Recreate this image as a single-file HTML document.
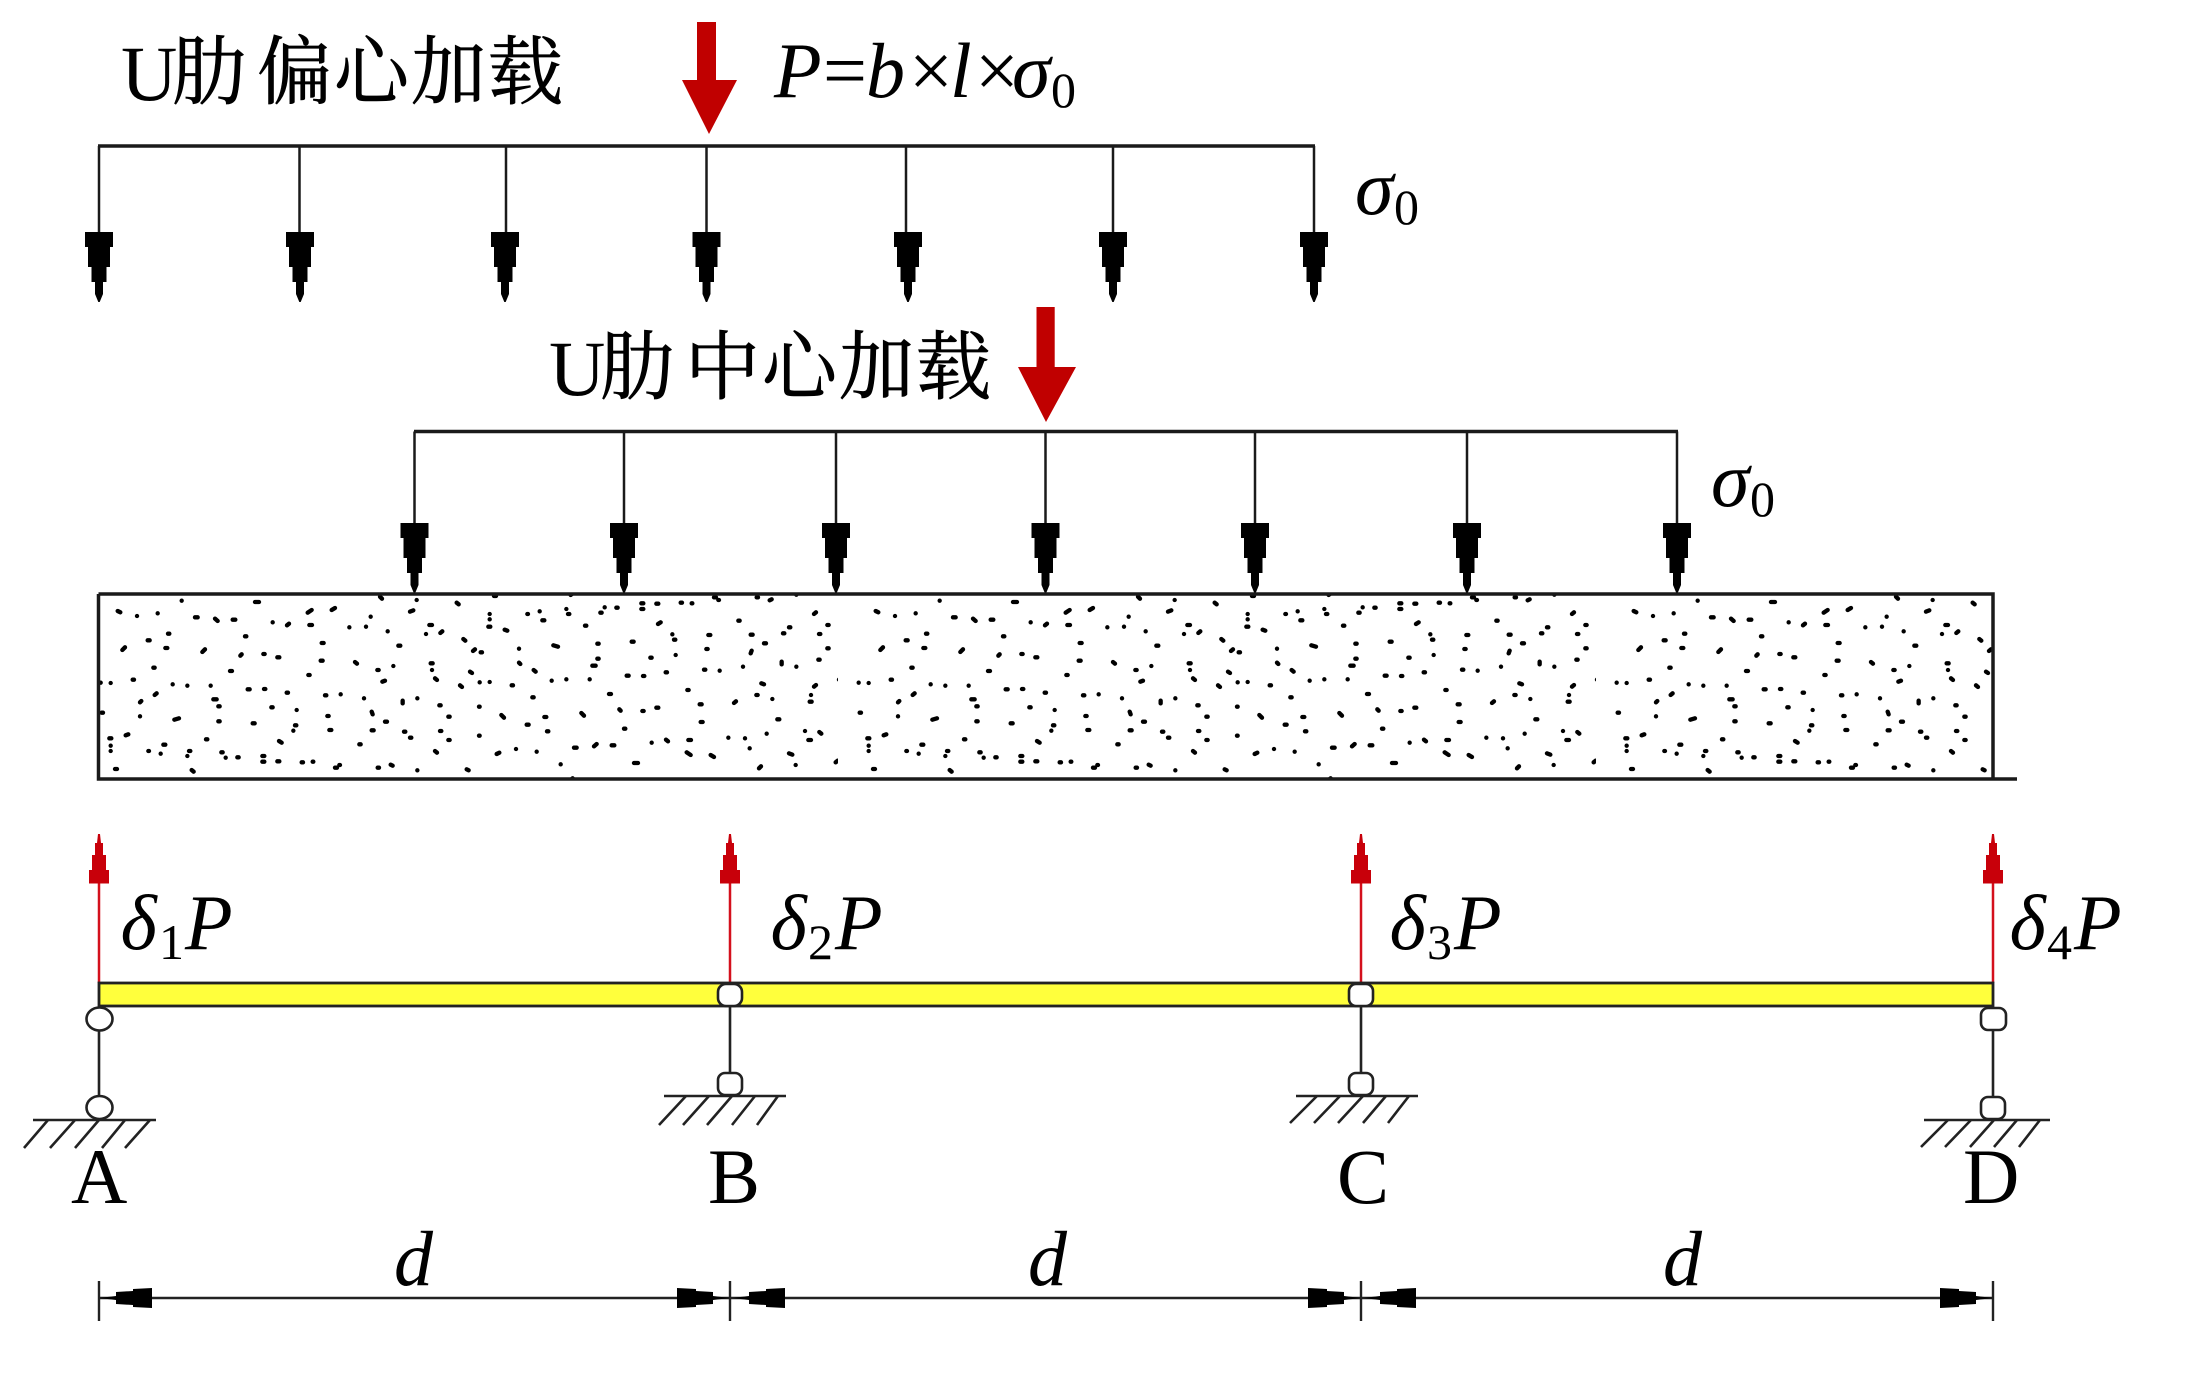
<!DOCTYPE html>
<html>
<head>
<meta charset="utf-8">
<style>
html,body{margin:0;padding:0;background:#fff}
svg{display:block}
text{font-family:"Liberation Serif","Noto Serif CJK SC",serif;fill:#000}
.cjk{font-family:"Liberation Serif","Noto Serif CJK SC",serif;font-size:75px;stroke:#000;stroke-width:.8px}
.l{font-size:78px}
.i{font-size:78px;font-style:italic}
.s{font-size:50px}
</style>
</head>
<body>
<svg xmlns="http://www.w3.org/2000/svg" width="2189" height="1379" viewBox="0 0 2189 1379">
<defs>
<polygon id="ba" fill="#000" points="-14,0 14,0 14,15 11,15 11,35 7.5,35 7.5,50 4,50 4,62 0.7,70 -0.7,70 -4,62 -4,50 -7.5,50 -7.5,35 -11,35 -11,15 -14,15"/>
<polygon id="ra" fill="#c8000a" points="-1,0 1,0 2,9 4,9 4,21 7,21 7,36 10,36 10,49.5 -10,49.5 -10,36 -7,36 -7,21 -4,21 -4,9 -2,9"/>
<polygon id="da" fill="#000" points="0,0 17,-2 17,-6 34,-7 34,-9 53,-10 53,10 34,9 34,7 17,6 17,2"/>
<path id="dots" fill="none" stroke="#000" stroke-width="13" stroke-linecap="round" stroke-linejoin="round" d="M305 32h.1M525 36h12M113 63l8 4M171 78h.1M233 70h.1M695 60l-12 8M765 54l-10 6M345 82h8M405 86l8 7M458 89h8M578 97h.1M627 101l-6 5M688 105h8M808 112h.1M858 110h.1M872 80h.1M990 65l10-4M1010 30h.1M900 20l6 6M1130 38l6 5M1048 105h8M1038 132h.1M1087 124l-6 5M923 124h.1M264 131h4M495 139h4M725 159h6M955 167h6M203 151h6M135 172l-8 8M256 174h6M375 178l-8 8M485 193l-4 4M550 192h4M598 202h-6M722 212h6M825 216l6 5M1150 147l6 5M1185 178l-6 5M220 233h4M450 243h6M685 255h4M892 240h4M1052 220h6M1056 240h.1M1065 265l6 5M915 272l-8 3M1170 245l6 4M940 228h.1M62 278h.1M92 279h.1M158 269h4M278 283h.1M322 287h.1M392 287h.1M503 298h6M552 297h4M620 308h4M735 316h4M782 313h.1M852 325h.1M968 332v8M1012 325h.1M1140 286l6 5M230 310l-6 5M184 333l-4 4M400 328h10M415 349h4M574 352h4M650 360h.1M1078 346h4M65 368h4M180 379h.1M297 385l-14 4M415 394h4M518 400h6M875 365l3 8M742 378h4M915 395h6M1105 380h4M645 406h4M640 422h.1M748 420h6M875 421h6M972 425h4M990 443h4M1080 423h4M1105 450h4M88 445h6M92 467h.1M92 483h.1M145 433l-8 3M250 464h6M205 483h2M242 491h.1M327 483h4M322 498h.1M378 448h4M424 487h4M437 503h.1M472 502h4M547 498h6M547 515h6M592 514h6M605 458l-8-5M838 463h4M665 517h4M698 515h2M765 533h6M778 525h2M893 533h4M932 524l6 3M1012 541h.1M1065 483l6 5M1160 538l6 3M105 537h6M335 540l6 5M1197 350h2M1197 437h2"/>
<pattern id="sp" patternUnits="userSpaceOnUse" width="2274" height="555" patternTransform="translate(80 590) scale(.33333)">
<use href="#dots"/>
<use href="#dots" transform="translate(1137 555) scale(1 -1)"/>
</pattern>
</defs>

<!-- Eccentric load -->
<text class="l" x="121" y="100">U</text>
<text class="cjk" x="172 257 334 411 488" y="98">肋偏心加载</text>
<polygon fill="#c00000" points="697,22 716,22 716,80 737,80 709,134 682,80 697,80"/>
<text class="i" x="774 818 866 904 950 970 1012" y="97">P=b×l×σ</text>
<text class="s" x="1051" y="107">0</text>
<g stroke="#1a1a1a" stroke-width="2.5" fill="none">
<path stroke-width="3.5" d="M98 146H1315"/>
<path d="M99 146V235M299.5 146V235M506 146V235M706.5 146V235M906 146V235M1113 146V235M1314 146V235"/>
</g>
<use href="#ba" x="99" y="232"/><use href="#ba" x="300" y="232"/><use href="#ba" x="505" y="232"/><use href="#ba" x="706.5" y="232"/><use href="#ba" x="908" y="232"/><use href="#ba" x="1113" y="232"/><use href="#ba" x="1314" y="232"/>
<text class="i" x="1355" y="214">σ</text>
<text class="s" x="1394" y="224">0</text>

<!-- Centered load -->
<text class="l" x="549" y="395">U</text>
<text class="cjk" x="600 685 762 839 916" y="393">肋中心加载</text>
<polygon fill="#c00000" points="1036.5,307 1054.7,307 1054.7,367 1076,367 1046,422 1018,367 1036.5,367"/>
<g stroke="#1a1a1a" stroke-width="2.5" fill="none">
<path stroke-width="3.5" d="M414 431.5H1678"/>
<path d="M414.5 431.5V526M624 431.5V526M836 431.5V526M1045.5 431.5V526M1255 431.5V526M1467 431.5V526M1677 431.5V526"/>
</g>
<use href="#ba" x="414.5" y="523"/><use href="#ba" x="624" y="523"/><use href="#ba" x="836" y="523"/><use href="#ba" x="1045.5" y="523"/><use href="#ba" x="1255" y="523"/><use href="#ba" x="1467" y="523"/><use href="#ba" x="1677" y="523"/>
<text class="i" x="1711" y="506">σ</text>
<text class="s" x="1750" y="516">0</text>

<!-- Slab -->
<rect x="98" y="594" width="1895" height="185" fill="url(#sp)"/>
<path d="M98.5 594H1993V779M98.5 594V779H2017" fill="none" stroke="#1a1a1a" stroke-width="3.5"/>

<!-- Red reactions -->
<g stroke="#d4101c" stroke-width="2.5" fill="none"><path d="M99 870V983M730 870V983M1361 870V983M1993 870V983"/></g>
<use href="#ra" x="99" y="834"/><use href="#ra" x="730" y="834"/><use href="#ra" x="1361" y="834"/><use href="#ra" x="1993" y="834"/>

<!-- Beam -->
<rect x="99" y="983" width="1894" height="23" fill="#ffff3c" stroke="#222" stroke-width="2.8"/>

<!-- Supports -->
<g stroke="#222" stroke-width="2.6" fill="none">
<path d="M99 1030V1096M730 1006V1072M1361 1006V1072M1993 1030V1096"/>
<path d="M33 1120H156M664 1096H786M1296 1096H1418M1924 1120H2050"/>
<path d="M48 1120L24 1148M75 1120L50 1148M99 1120L75 1148M125 1120L102 1148M150 1120L125 1148"/>
<path d="M686 1096L659 1125M709 1096L683 1125M732 1096L707 1125M755 1096L732 1125M778 1096L757 1125"/>
<path d="M1317 1096L1290 1123M1340 1096L1314 1123M1363 1096L1338 1123M1386 1096L1363 1123M1409 1096L1388 1123"/>
<path d="M1948 1120L1921 1147M1971 1120L1945 1147M1994 1120L1970 1147M2017 1120L1994 1147M2040 1120L2019 1147"/>
</g>
<g fill="#fff" stroke="#222" stroke-width="2.6">
<ellipse cx="99.5" cy="1019" rx="13" ry="11.5"/>
<ellipse cx="99.5" cy="1107.5" rx="13" ry="11.5"/>
<rect x="718" y="984" width="24" height="22" rx="8"/>
<rect x="718" y="1073" width="24" height="22" rx="7"/>
<rect x="1349" y="984" width="24" height="22" rx="7"/>
<rect x="1349" y="1073" width="24" height="22" rx="7"/>
<rect x="1981" y="1008" width="25" height="22" rx="7"/>
<rect x="1981" y="1097" width="24" height="22" rx="7"/>
</g>

<!-- Reaction labels -->
<text class="i" x="120.5" y="949">δ</text><text class="s" x="159" y="959">1</text><text class="i" x="185" y="949">P</text>
<text class="i" x="770.5" y="949">δ</text><text class="s" x="808" y="959">2</text><text class="i" x="835" y="949">P</text>
<text class="i" x="1389.5" y="949">δ</text><text class="s" x="1427" y="959">3</text><text class="i" x="1454" y="949">P</text>
<text class="i" x="2009.5" y="949">δ</text><text class="s" x="2047" y="959">4</text><text class="i" x="2074" y="949">P</text>

<!-- Node labels -->
<text class="l" x="71" y="1203">A</text>
<text class="l" x="708" y="1203">B</text>
<text class="l" x="1337" y="1203">C</text>
<text class="l" x="1963" y="1203">D</text>

<!-- Dimensions -->
<text class="i" x="394" y="1285">d</text>
<text class="i" x="1028" y="1285">d</text>
<text class="i" x="1663" y="1285">d</text>
<g stroke="#222" stroke-width="2.4" fill="none">
<path d="M99 1298H1993"/>
<path d="M99 1281V1321M730 1281V1321M1361 1281V1321M1993 1281V1321"/>
</g>
<use href="#da" transform="translate(99 1298)"/>
<use href="#da" transform="translate(730 1298) scale(-1 1)"/>
<use href="#da" transform="translate(732 1298)"/>
<use href="#da" transform="translate(1361 1298) scale(-1 1)"/>
<use href="#da" transform="translate(1363 1298)"/>
<use href="#da" transform="translate(1993 1298) scale(-1 1)"/>
</svg>
</body>
</html>
